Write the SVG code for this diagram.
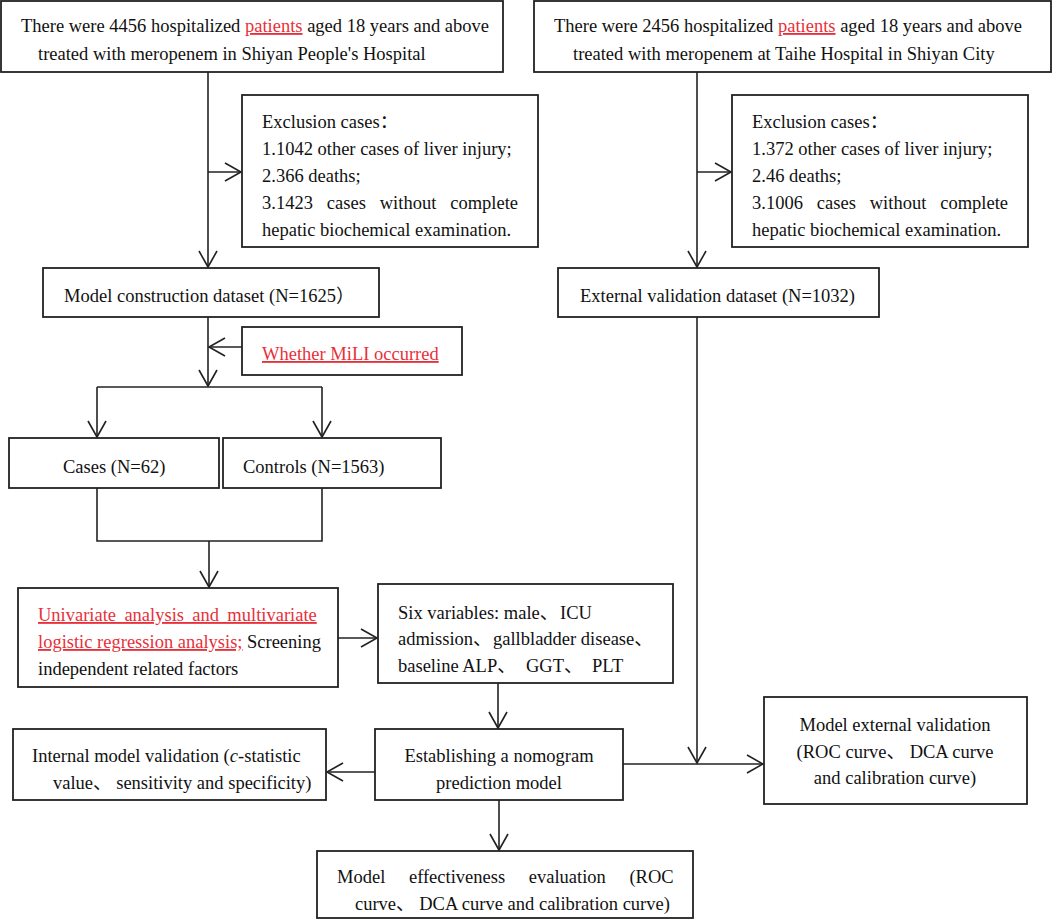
<svg xmlns="http://www.w3.org/2000/svg" width="1052" height="920" viewBox="0 0 1052 920">
<defs>
<style>
text{font-family:"Liberation Serif","Noto Sans CJK SC",serif;font-size:18.5px;fill:#111}
.red{fill:#e8303a}
.u{text-decoration:underline}
.box{fill:#fff;stroke:#222;stroke-width:1.8}
.ln{fill:none;stroke:#222;stroke-width:1.6}
.ul{stroke:#e8303a;stroke-width:1.2}
</style>
<marker id="ah" viewBox="-18 -11 20 22" refX="0" refY="0" markerWidth="20" markerHeight="22" markerUnits="userSpaceOnUse" orient="auto">
<path d="M-16,-9 L0,0 L-16,9" fill="none" stroke="#222" stroke-width="1.6"/>
</marker>
</defs>
<rect width="1052" height="920" fill="#fff"/>

<g id="connectors">
<path class="ln" d="M208,72 V267" marker-end="url(#ah)"/>
<path class="ln" d="M208,172 H241" marker-end="url(#ah)"/>
<path class="ln" d="M697,72 V267" marker-end="url(#ah)"/>
<path class="ln" d="M697,172 H731" marker-end="url(#ah)"/>
<path class="ln" d="M208,317 V386" marker-end="url(#ah)"/>
<path class="ln" d="M242,347 H209" marker-end="url(#ah)"/>
<path class="ln" d="M97,387 H322"/>
<path class="ln" d="M97,387 V437" marker-end="url(#ah)"/>
<path class="ln" d="M322,387 V437" marker-end="url(#ah)"/>
<path class="ln" d="M97,488 V541 H322 V488"/>
<path class="ln" d="M209,541 V587" marker-end="url(#ah)"/>
<path class="ln" d="M338,638 H377" marker-end="url(#ah)"/>
<path class="ln" d="M498,683 V728" marker-end="url(#ah)"/>
<path class="ln" d="M375,772 H327" marker-end="url(#ah)"/>
<path class="ln" d="M697,317 V763" marker-end="url(#ah)"/>
<path class="ln" d="M623,764 H763" marker-end="url(#ah)"/>
<path class="ln" d="M499,800 V850" marker-end="url(#ah)"/>
</g>

<g id="n_top_left">
<rect class="box" x="1" y="1" width="502" height="71"/>
<text x="21" y="32">There were 4456 hospitalized <tspan class="red u">patients</tspan> aged 18 years and above</text>
<text x="38" y="60">treated with meropenem in Shiyan People's Hospital</text>
</g>

<g id="n_top_right">
<rect class="box" x="534" y="1" width="517" height="71"/>
<text x="554" y="32">There were 2456 hospitalized <tspan class="red u">patients</tspan> aged 18 years and above</text>
<text x="573" y="60">treated with meropenem at Taihe Hospital in Shiyan City</text>
</g>

<g id="n_excl_1">
<rect class="box" x="242" y="95" width="296" height="152"/>
<text x="262" y="128">Exclusion cases：</text>
<text x="262" y="155">1.1042 other cases of liver injury;</text>
<text x="262" y="182">2.366 deaths;</text>
<text x="262" y="209" word-spacing="9.3">3.1423 cases without complete</text>
<text x="262" y="236">hepatic biochemical examination.</text>
</g>

<g id="n_excl_2">
<rect class="box" x="732" y="95" width="296" height="152"/>
<text x="752" y="128">Exclusion cases：</text>
<text x="752" y="155">1.372 other cases of liver injury;</text>
<text x="752" y="182">2.46 deaths;</text>
<text x="752" y="209" word-spacing="9.3">3.1006 cases without complete</text>
<text x="752" y="236">hepatic biochemical examination.</text>
</g>

<g id="n_model_construction">
<rect class="box" x="43" y="268" width="336" height="49"/>
<text x="64" y="302">Model construction dataset (N=1625）</text>
</g>

<g id="n_external_dataset">
<rect class="box" x="558" y="268" width="321" height="49"/>
<text x="580" y="302">External validation dataset (N=1032)</text>
</g>

<g id="n_whether">
<rect class="box" x="242" y="327" width="220" height="48"/>
<text x="262" y="360" class="red u">Whether MiLI occurred</text>
</g>

<g id="n_cases">
<rect class="box" x="9" y="438" width="210" height="50"/>
<text x="63" y="473">Cases (N=62)</text>
</g>

<g id="n_controls">
<rect class="box" x="223" y="438" width="218" height="50"/>
<text x="243" y="473">Controls (N=1563)</text>
</g>

<g id="n_univariate">
<rect class="box" x="18" y="588" width="320" height="99"/>
<text x="38" y="621" class="red u" word-spacing="3.7">Univariate analysis and multivariate</text>
<text y="648"><tspan x="38" class="red u">logistic regression analysis;</tspan><tspan x="247">Screening</tspan></text>
<text x="38" y="675">independent related factors</text>
</g>

<g id="n_six_variables">
<rect class="box" x="378" y="584" width="295" height="99"/>
<text y="619"><tspan x="398">Six variables: male、</tspan><tspan x="560">ICU</tspan></text>
<text y="645"><tspan x="398">admission、</tspan><tspan x="493">gallbladder disease、</tspan></text>
<text y="672"><tspan x="398">baseline ALP、</tspan><tspan x="526">GGT、</tspan><tspan x="592">PLT</tspan></text>
</g>

<g id="n_establishing">
<rect class="box" x="375" y="729" width="248" height="71"/>
<text x="499" y="762" text-anchor="middle">Establishing a nomogram</text>
<text x="499" y="789" text-anchor="middle">prediction model</text>
</g>

<g id="n_internal">
<rect class="box" x="13" y="729" width="313" height="71"/>
<text x="32" y="762">Internal model validation (<tspan font-style="italic">c</tspan>-statistic</text>
<text x="53" y="789">value、 sensitivity and specificity)</text>
</g>

<g id="n_external_validation">
<rect class="box" x="764" y="697" width="263" height="107"/>
<text x="895" y="731" text-anchor="middle">Model external validation</text>
<text x="895" y="758" text-anchor="middle">(ROC curve、 DCA curve</text>
<text x="895" y="784" text-anchor="middle">and calibration curve)</text>
</g>

<g id="n_effectiveness">
<rect class="box" x="317" y="851" width="376" height="67"/>
<text x="337" y="883" word-spacing="19">Model effectiveness evaluation (ROC</text>
<text x="355" y="910">curve、 DCA curve and calibration curve)</text>
</g>
</svg>
